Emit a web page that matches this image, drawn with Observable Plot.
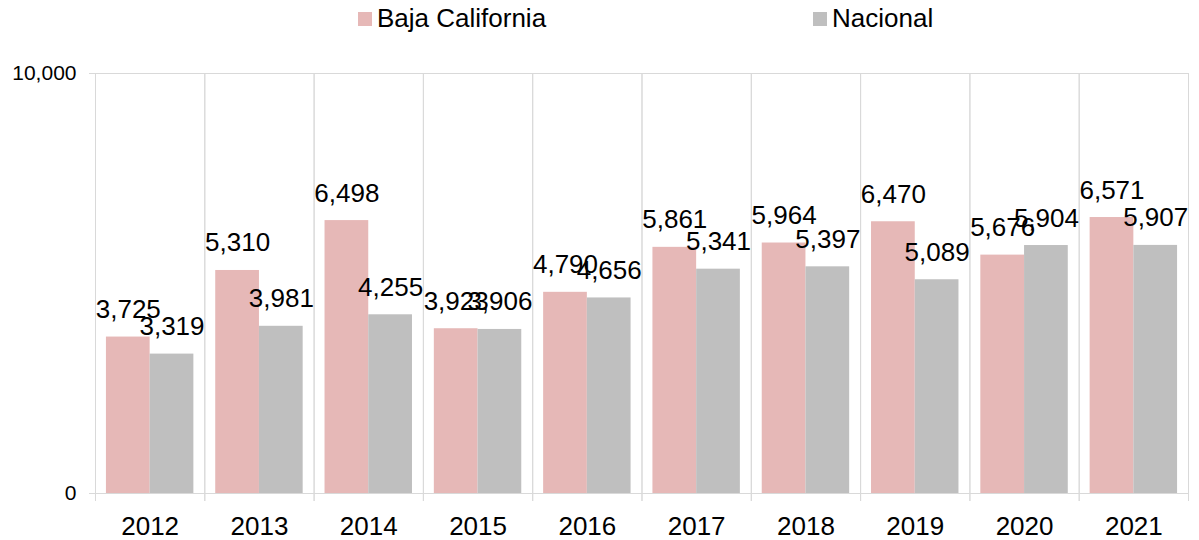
<!DOCTYPE html>
<html>
<head>
<meta charset="utf-8">
<script src="https://cdn.jsdelivr.net/npm/d3@7"></script>
<script src="https://cdn.jsdelivr.net/npm/@observablehq/plot@0.6"></script>
<style>
  html, body { margin: 0; padding: 0; background: #fff; }
  body { width: 1199px; height: 540px; overflow: hidden; font-family: "Liberation Sans", Arial, sans-serif; }
  #legend { position: relative; width: 1199px; height: 42px; }
  .item { position: absolute; top: 3px; display: flex; align-items: center; font-size: 26px; color: #000; white-space: nowrap; }
  .sw { width: 14px; height: 14px; margin-right: 5px; }
</style>
</head>
<body>
<div id="legend"></div>
<div id="chart"></div>
<script>
const years = ["2012","2013","2014","2015","2016","2017","2018","2019","2020","2021"];
const seriesNames = ["Baja California", "Nacional"];
const bajaCalifornia = [3725, 5310, 6498, 3923, 4790, 5861, 5964, 6470, 5676, 6571];
const nacional = [3319, 3981, 4255, 3906, 4656, 5341, 5397, 5089, 5904, 5907];
const seriesColors = ["#E6B8B7", "#BFBFBF"];
const yTicks = [0, 10000];

const rows = [];
years.forEach((yr, i) => {
  rows.push({year: yr, series: seriesNames[0], value: bajaCalifornia[i]});
  rows.push({year: yr, series: seriesNames[1], value: nacional[i]});
});

// legend
const legend = document.getElementById("legend");
const legendLeft = [358, 813];
seriesNames.forEach((s, i) => {
  const it = document.createElement("div");
  it.className = "item";
  it.style.left = legendLeft[i] + "px";
  it.innerHTML = `<span class="sw" style="background:${seriesColors[i]}"></span><span>${s}</span>`;
  legend.appendChild(it);
});

const fmt = d3.format(",");
const grid = "#D9D9D9";
const chart = Plot.plot({
  width: 1199,
  height: 498,
  marginTop: 31,
  marginBottom: 47,
  marginLeft: 95,
  marginRight: 11,
  style: {fontFamily: '"Liberation Sans", Arial, sans-serif', fontSize: "20px", color: "#000", background: "#fff", overflow: "visible"},
  fx: {domain: years, padding: 0, round: false, axis: null, label: null},
  x: {domain: seriesNames, paddingInner: 0, paddingOuter: 0.25, round: false, axis: null, label: null},
  y: {domain: [0, 10000], axis: null, label: null},
  color: {domain: seriesNames, range: seriesColors},
  marks: [
    Plot.frame({anchor: "top", stroke: grid}),
    Plot.frame({anchor: "left", stroke: grid, insetBottom: -7}),
    Plot.frame({anchor: "right", stroke: grid, insetBottom: -7}),
    Plot.barY(rows, {fx: "year", x: "series", y: "value", fill: "series"}),
    Plot.frame({anchor: "bottom", stroke: grid}),
    Plot.text(rows, {fx: "year", x: "series", y: "value", text: d => fmt(d.value),
      lineAnchor: "bottom", dy: -19, fontSize: 26, fill: "#000"}),
    Plot.axisY(yTicks, {tickFormat: fmt, tickSize: 6, tickPadding: 13, fontSize: 21, stroke: grid, label: null}),
    Plot.axisFx({anchor: "bottom", tickSize: 0, tickPadding: 23, fontSize: 26, label: null})
  ]
});
document.getElementById("chart").appendChild(chart);
</script>
</body>
</html>
